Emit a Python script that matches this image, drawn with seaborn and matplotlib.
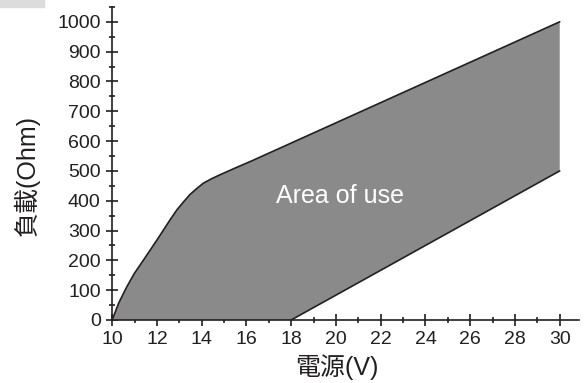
import numpy as np
import pandas as pd
import matplotlib.pyplot as plt
from matplotlib.patches import Rectangle
from matplotlib.ticker import MultipleLocator
import seaborn as sns

# Upper limit of the usable area
upper_v = [10, 10.3, 10.66, 11, 11.4, 12, 12.59, 12.89, 13.2, 13.48, 13.8, 14.08, 14.45, 14.82, 15.57, 16.16, 30]
upper_r = [0, 58, 112, 157, 201, 268, 336, 369, 397, 421, 442, 459, 474, 487, 512, 531, 1000]

# Lower limit of the usable area
lower_v = [18, 30]
lower_r = [0, 500]

x_ticks = list(range(10, 31, 2))
y_ticks = list(range(0, 1001, 100))

sns.set_style('ticks')
plt.rcParams['font.family'] = ['Liberation Sans', 'Noto Sans CJK TC', 'DejaVu Sans']

dark = '#231f20'
fig = plt.figure(figsize=(5.84, 3.83), dpi=100)
ax = fig.add_axes([0.192, 0.1645, 0.799, 0.8175])

# shaded area: upper curve, then lower line back, closed along the x axis
poly_v = upper_v + lower_v[::-1] + [upper_v[0]]
poly_r = upper_r + lower_r[::-1] + [upper_r[0]]
ax.fill(poly_v, poly_r, color='#8a8a8a', linewidth=0, zorder=1)

upper = pd.DataFrame({'v': upper_v, 'r': upper_r})
lower = pd.DataFrame({'v': lower_v, 'r': lower_r})
sns.lineplot(data=upper, x='v', y='r', ax=ax, color=dark, linewidth=1.2, sort=False, zorder=2)
sns.lineplot(data=lower, x='v', y='r', ax=ax, color=dark, linewidth=1.2, sort=False, zorder=2)

ax.text(20.2, 415, 'Area of use', color='white', fontsize=18, ha='center', va='center')

ax.set_xlim(10, 30.85)
ax.set_ylim(0, 1050)
ax.set_xticks(x_ticks)
ax.set_yticks(y_ticks)
ax.xaxis.set_minor_locator(MultipleLocator(1))
ax.yaxis.set_minor_locator(MultipleLocator(50))
ax.tick_params(which='major', direction='inout', length=8.5, width=1.2, color=dark,
               labelsize=14, labelcolor=dark, pad=4)
ax.tick_params(which='minor', direction='inout', length=4.5, width=1.2, color=dark)

sns.despine(ax=ax)
for side in ['left', 'bottom']:
    ax.spines[side].set_color(dark)
    ax.spines[side].set_linewidth(1.2)

ax.set_xlabel('電源(V)', fontsize=18, color=dark)
ax.set_ylabel('負載(Ohm)', fontsize=18, color=dark)
ax.xaxis.set_label_coords(0.482, -0.11)
ax.yaxis.set_label_coords(-0.154, 0.463)

# small grey strip in the top-left corner of the original image
fig.patches.append(Rectangle((0, 0.982), 0.075, 0.018, transform=fig.transFigure,
                             color='#dcdcdc', zorder=0))

fig.savefig('out.png', dpi=100)
